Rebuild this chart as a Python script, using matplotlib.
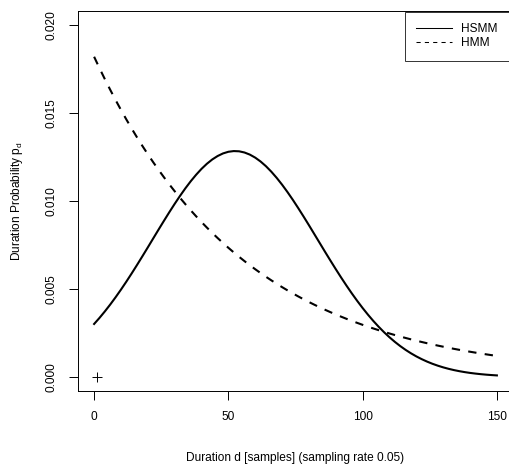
import matplotlib
matplotlib.use("Agg")
import matplotlib.pyplot as plt
from matplotlib.lines import Line2D

plt.rcParams["font.family"] = ["Liberation Sans", "DejaVu Sans"]
plt.rcParams["mathtext.default"] = "regular"

# duration axis (samples), every 2 samples
duration = list(range(0, 151, 2))

# explicit-duration (semi-Markov) state duration distribution
hsmm = [0.003010, 0.003355, 0.003724, 0.004115, 0.004529, 0.004963,
        0.005416, 0.005886, 0.006369, 0.006863, 0.007364, 0.007870,
        0.008374, 0.008872, 0.009362, 0.009837, 0.010292, 0.010724,
        0.011126, 0.011494, 0.011827, 0.012116, 0.012361, 0.012557,
        0.012704, 0.012798, 0.012838, 0.012825, 0.012757, 0.012637,
        0.012465, 0.012244, 0.011977, 0.011665, 0.011314, 0.010928,
        0.010511, 0.010068, 0.009601, 0.009119, 0.008625, 0.008121,
        0.007617, 0.007112, 0.006615, 0.006126, 0.005649, 0.005187,
        0.004743, 0.004319, 0.003916, 0.003536, 0.003179, 0.002847,
        0.002538, 0.002254, 0.001993, 0.001754, 0.001538, 0.001343,
        0.001167, 0.001011, 0.000871, 0.000747, 0.000639, 0.000544,
        0.000461, 0.000389, 0.000327, 0.000274, 0.000228, 0.000190,
        0.000157, 0.000129, 0.000106, 0.000086]

# implicit geometric duration of a plain HMM state
hmm = [0.018200, 0.017551, 0.016925, 0.016321, 0.015739, 0.015178,
       0.014637, 0.014115, 0.013611, 0.013126, 0.012658, 0.012206,
       0.011771, 0.011351, 0.010946, 0.010556, 0.010180, 0.009817,
       0.009467, 0.009129, 0.008803, 0.008489, 0.008186, 0.007894,
       0.007613, 0.007341, 0.007079, 0.006827, 0.006583, 0.006348,
       0.006122, 0.005904, 0.005693, 0.005490, 0.005294, 0.005105,
       0.004923, 0.004748, 0.004578, 0.004415, 0.004258, 0.004106,
       0.003959, 0.003818, 0.003682, 0.003551, 0.003424, 0.003302,
       0.003184, 0.003071, 0.002961, 0.002856, 0.002754, 0.002656,
       0.002561, 0.002470, 0.002381, 0.002296, 0.002215, 0.002136,
       0.002060, 0.001986, 0.001915, 0.001847, 0.001781, 0.001718,
       0.001656, 0.001597, 0.001540, 0.001485, 0.001432, 0.001381,
       0.001332, 0.001284, 0.001238, 0.001194]

marker_x = [1]
marker_y = [0.0]

x_ticks = [0, 50, 100, 150]
y_ticks = [0.000, 0.005, 0.010, 0.015, 0.020]

FS = 8.6
W, H = 510, 469

fig = plt.figure(figsize=(W / 100, H / 100), dpi=100)
ax = fig.add_axes([78 / W, (H - 391) / H, 435 / W, 380 / H])

ax.plot(duration, hsmm, color="black", lw=1.5, solid_joinstyle="round")
ax.plot(duration, hmm, color="black", lw=1.5, linestyle=(0, (4, 4)),
        dash_capstyle="butt")
ax.plot(marker_x, marker_y, marker="+", color="black", ms=7, mew=0.7,
        linestyle="none")

ax.set_xlim(-6, 156)
ax.set_ylim(-0.0008, 0.0208)
ax.set_xticks(x_ticks)
ax.set_xticklabels([str(t) for t in x_ticks])
ax.set_yticks(y_ticks)
ax.set_yticklabels([f"{t:.3f}" for t in y_ticks], rotation=90, va="center")
ax.tick_params(direction="out", length=6.5, width=0.7, labelsize=FS,
               color="black")
ax.tick_params(axis="y", pad=8)
ax.tick_params(axis="x", pad=8)
for side in ax.spines.values():
    side.set_linewidth(0.7)

ax.set_xlabel("Duration d [samples] (sampling rate 0.05)", fontsize=FS,
              labelpad=21)
ax.set_ylabel("Duration Probability $p_d$", fontsize=FS, labelpad=15)

handles = [
    Line2D([], [], color="black", lw=0.75),
    Line2D([], [], color="black", lw=0.75, linestyle=(0, (4, 4))),
]
leg = ax.legend(handles, ["HSMM", "HMM"], loc="upper right",
                bbox_to_anchor=(0.991, 0.998), fontsize=FS, frameon=True,
                fancybox=False, borderpad=0.95, handlelength=3.0,
                handletextpad=0.8, labelspacing=0.2, borderaxespad=0)
leg.get_frame().set_edgecolor("black")
leg.get_frame().set_linewidth(0.7)

fig.savefig("out.png", dpi=100)
